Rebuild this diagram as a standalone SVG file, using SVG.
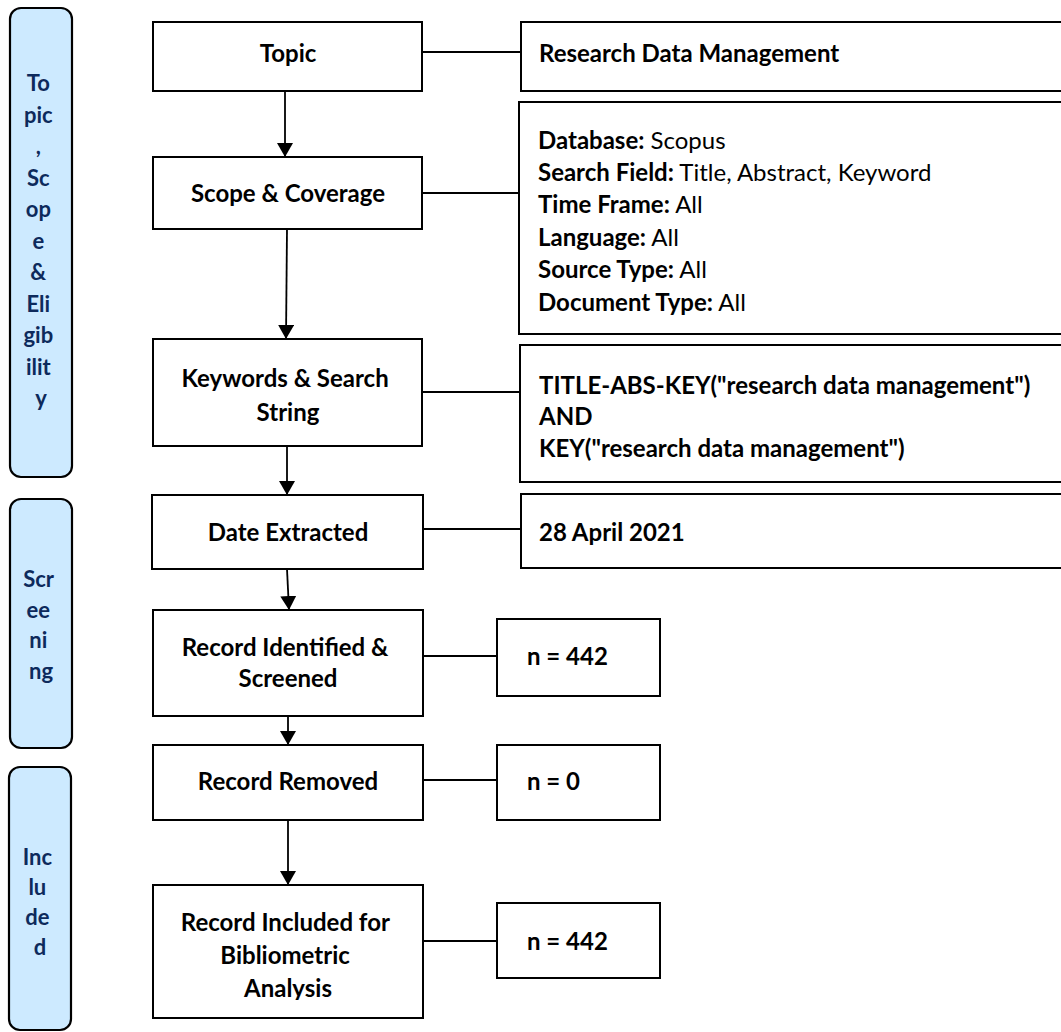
<svg xmlns="http://www.w3.org/2000/svg" width="1061" height="1032" viewBox="0 0 1061 1032">
  <style>
    .box { fill: #ffffff; stroke: #000000; stroke-width: 2; }
    .phase { fill: #cdeaff; stroke: #000000; stroke-width: 2.2; }
    .conn { stroke: #000000; stroke-width: 1.8; fill: none; }
    .t { font-family: Lato, "Open Sans", "Liberation Sans", sans-serif; font-weight: 700; font-size: 24px; fill: #000000; }
    .c { text-anchor: middle; }
    .r { font-weight: 400; }
    .pt { font-family: Lato, "Open Sans", "Liberation Sans", sans-serif; font-weight: 700; font-size: 22px; fill: #0d2a5c; text-anchor: middle; }
  </style>
  <defs>
    <marker id="arrow" viewBox="0 0 14 16" refX="14" refY="8" markerWidth="14" markerHeight="16" markerUnits="userSpaceOnUse" orient="auto">
      <path d="M0,0 L14,8 L0,16 Z" fill="#000000"/>
    </marker>
    <clipPath id="clip-included">
      <rect x="153" y="885" width="270" height="115"/>
    </clipPath>
  </defs>

  <rect width="1061" height="1032" fill="#ffffff"/>

  <!-- phase bands on the left -->
  <g id="phase-identification">
    <rect class="phase" x="10" y="8" width="62" height="469" rx="11"/>
    <text class="pt" x="41" y="91">
      <tspan x="41">To</tspan>
      <tspan x="41" dy="31.5">pic</tspan>
      <tspan x="41" dy="31.5">,</tspan>
      <tspan x="41" dy="31.5">Sc</tspan>
      <tspan x="41" dy="31.5">op</tspan>
      <tspan x="41" dy="31.5">e</tspan>
      <tspan x="41" dy="31.5">&amp;</tspan>
      <tspan x="41" dy="31.5">Eli</tspan>
      <tspan x="41" dy="31.5">gib</tspan>
      <tspan x="41" dy="31.5">ilit</tspan>
      <tspan x="41" dy="31.5">y</tspan>
    </text>
  </g>
  <g id="phase-screening">
    <rect class="phase" x="10" y="499" width="62" height="249" rx="11"/>
    <text class="pt" x="41" y="587">
      <tspan x="41">Scr</tspan>
      <tspan x="41" dy="30.5">ee</tspan>
      <tspan x="41" dy="30.5">ni</tspan>
      <tspan x="41" dy="30.5">ng</tspan>
    </text>
  </g>
  <g id="phase-included">
    <rect class="phase" x="9" y="767" width="62" height="263" rx="11"/>
    <text class="pt" x="40" y="865">
      <tspan x="40">Inc</tspan>
      <tspan x="40" dy="30">lu</tspan>
      <tspan x="40" dy="30">de</tspan>
      <tspan x="40" dy="30">d</tspan>
    </text>
  </g>

  <!-- connectors -->
  <g id="connectors">
    <line class="conn" x1="285" y1="91" x2="285" y2="157" marker-end="url(#arrow)"/>
    <line class="conn" x1="287" y1="229" x2="286" y2="339" marker-end="url(#arrow)"/>
    <line class="conn" x1="287" y1="438" x2="287" y2="495" marker-end="url(#arrow)"/>
    <line class="conn" x1="287" y1="569" x2="289" y2="610" marker-end="url(#arrow)"/>
    <line class="conn" x1="288" y1="706" x2="288" y2="745" marker-end="url(#arrow)"/>
    <line class="conn" x1="288" y1="820" x2="288" y2="885" marker-end="url(#arrow)"/>

    <line class="conn" x1="422" y1="52" x2="521" y2="52"/>
    <line class="conn" x1="422" y1="193" x2="519" y2="193"/>
    <line class="conn" x1="422" y1="392" x2="520" y2="392"/>
    <line class="conn" x1="423" y1="529" x2="521" y2="529"/>
    <line class="conn" x1="423" y1="656" x2="497" y2="656"/>
    <line class="conn" x1="423" y1="780" x2="497" y2="780"/>
    <line class="conn" x1="423" y1="941" x2="497" y2="941"/>
  </g>

  <!-- process steps -->
  <g id="node-topic">
    <rect class="box" x="153" y="22" width="269" height="69"/>
    <text class="t c" x="288" y="61.5">Topic</text>
  </g>
  <g id="node-scope">
    <rect class="box" x="153" y="157" width="269" height="72"/>
    <text class="t c" x="288" y="201.5">Scope &amp; Coverage</text>
  </g>
  <g id="node-keywords">
    <rect class="box" x="153" y="339" width="269" height="107"/>
    <text class="t c" x="288" y="386.5">
      <tspan x="288">Keywords &amp; Search</tspan>
      <tspan x="288" dy="34">String</tspan>
    </text>
  </g>
  <g id="node-date">
    <rect class="box" x="152" y="495" width="271" height="74"/>
    <text class="t c" x="288" y="540.5">Date Extracted</text>
  </g>
  <g id="node-identified">
    <rect class="box" x="153" y="610" width="270" height="106"/>
    <text class="t c" x="288" y="656">
      <tspan x="288">Record Identified &amp;</tspan>
      <tspan x="288" dy="31">Screened</tspan>
    </text>
  </g>
  <g id="node-removed">
    <rect class="box" x="153" y="745" width="270" height="75"/>
    <text class="t c" x="288" y="790">Record Removed</text>
  </g>
  <g id="node-included">
    <rect class="box" x="153" y="885" width="270" height="133"/>
    <text class="t c" x="288" y="931" clip-path="url(#clip-included)">
      <tspan x="288">Record Included for</tspan>
      <tspan x="288" dy="33">Bibliometric</tspan>
      <tspan x="288" dy="33">Analysis</tspan>
    </text>
  </g>

  <!-- details -->
  <g id="detail-topic">
    <rect class="box" x="521" y="22" width="560" height="69"/>
    <text class="t" x="539" y="61.5">Research Data Management</text>
  </g>
  <g id="detail-scope">
    <rect class="box" x="519" y="102" width="560" height="232"/>
    <text class="t" x="538" y="148.5">
      <tspan x="538">Database:</tspan><tspan class="r"> Scopus</tspan>
      <tspan x="538" dy="32.4">Search Field:</tspan><tspan class="r"> Title, Abstract, Keyword</tspan>
      <tspan x="538" dy="32.4">Time Frame:</tspan><tspan class="r"> All</tspan>
      <tspan x="538" dy="32.4">Language:</tspan><tspan class="r"> All</tspan>
      <tspan x="538" dy="32.4">Source Type:</tspan><tspan class="r"> All</tspan>
      <tspan x="538" dy="32.4">Document Type:</tspan><tspan class="r"> All</tspan>
    </text>
  </g>
  <g id="detail-keywords">
    <rect class="box" x="520" y="345" width="560" height="137"/>
    <text class="t" x="539" y="393.5">
      <tspan x="539">TITLE-ABS-KEY("research data management")</tspan>
      <tspan x="539" dy="31.8">AND</tspan>
      <tspan x="539" dy="31.8">KEY("research data management")</tspan>
    </text>
  </g>
  <g id="detail-date">
    <rect class="box" x="521" y="494" width="560" height="74"/>
    <text class="t" x="539" y="540.5">28 April 2021</text>
  </g>
  <g id="count-identified">
    <rect class="box" x="497" y="619" width="163" height="77"/>
    <text class="t" x="527" y="665">n = 442</text>
  </g>
  <g id="count-removed">
    <rect class="box" x="497" y="745" width="163" height="75"/>
    <text class="t" x="527" y="790">n = 0</text>
  </g>
  <g id="count-included">
    <rect class="box" x="497" y="903" width="163" height="75"/>
    <text class="t" x="527" y="950">n = 442</text>
  </g>
</svg>
